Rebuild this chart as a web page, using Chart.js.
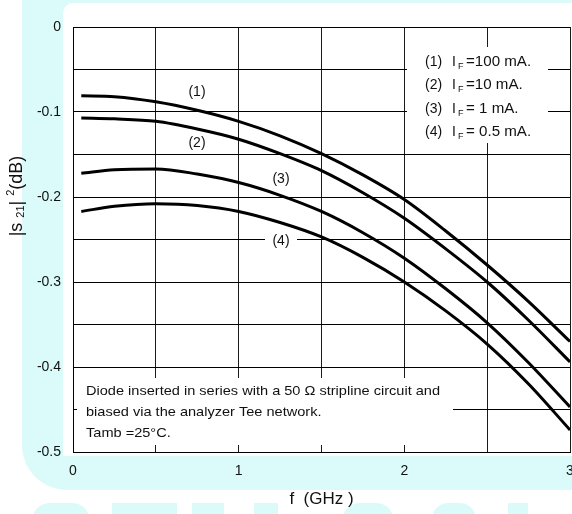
<!DOCTYPE html>
<html>
<head>
<meta charset="utf-8">
<script src="https://cdn.jsdelivr.net/npm/chart.js@4/dist/chart.umd.min.js"></script>
<style>
  html, body { margin: 0; padding: 0; background: #fff; }
  #wrap { width: 572px; height: 514px; position: relative; }
</style>
</head>
<body>
<div id="wrap"><canvas id="c" width="572" height="514"></canvas></div>
<script>
// ---- data ----
const freqGHz = [0.05, 0.25, 0.5, 0.75, 1.0, 1.25, 1.5, 1.75, 2.0, 2.25, 2.5, 2.75, 3.0];
const s21_IF100mA = [-0.081, -0.082, -0.088, -0.098, -0.111, -0.128, -0.149, -0.174, -0.203, -0.240, -0.280, -0.323, -0.370];
const s21_IF10mA  = [-0.107, -0.108, -0.111, -0.120, -0.132, -0.149, -0.169, -0.195, -0.225, -0.261, -0.300, -0.345, -0.394];
const s21_IF1mA   = [-0.172, -0.168, -0.167, -0.173, -0.183, -0.198, -0.217, -0.242, -0.272, -0.308, -0.348, -0.395, -0.447];
const s21_IF05mA  = [-0.217, -0.211, -0.208, -0.210, -0.217, -0.230, -0.247, -0.271, -0.300, -0.334, -0.373, -0.420, -0.474];
const curveTags = ['(1)', '(2)', '(3)', '(4)'];
const legendCurrents = ['=100 mA.', '=10 mA.', '= 1 mA.', '= 0.5 mA.'];
const noteLines = [
  'Diode inserted in series with a 50 \u03A9 stripline circuit and',
  'biased via the analyzer Tee network.',
  'Tamb =25\u00B0C.'
];
const xTitle = 'f  (GHz )';

const FONT = "'Liberation Sans', Arial, Helvetica, sans-serif";
const CYAN = '#dbfbfb';

function toXY(ys) { return freqGHz.map((x, i) => ({ x: x, y: ys[i] })); }
function ds(ys) {
  return {
    data: toXY(ys),
    borderColor: '#000',
    borderWidth: 3,
    pointRadius: 0,
    fill: false,
    cubicInterpolationMode: 'monotone'
  };
}

function rr(ctx, x, y, w, h, r) {
  ctx.beginPath();
  ctx.roundRect(x, y, w, h, r);
  ctx.fill();
}

function stretchedText(ctx, text, x, y, sx) {
  ctx.save();
  ctx.translate(x, y);
  ctx.scale(sx, 1);
  ctx.fillText(text, 0, 0);
  ctx.restore();
}

const decor = {
  id: 'decor',
  beforeDraw(chart) {
    const ctx = chart.ctx;
    ctx.save();
    ctx.fillStyle = '#fff';
    ctx.fillRect(0, 0, chart.width, chart.height);
    // watermark-like cyan background
    ctx.fillStyle = CYAN;
    rr(ctx, 22, -40, 600, 530, [0, 0, 0, 45]);
    ctx.fillRect(22, 0, 600, 3);
    // bottom row blobs
    rr(ctx, 32, 503, 58, 40, 18);
    ctx.fillRect(112, 503, 65, 20);
    ctx.fillRect(192, 503, 32, 20);
    ctx.fillRect(254, 503, 24, 20);
    rr(ctx, 342, 503, 52, 40, 18);
    rr(ctx, 432, 503, 44, 40, 16);
    ctx.fillRect(508, 503, 20, 20);
    // white panel behind plot
    ctx.fillStyle = '#fff';
    rr(ctx, 63, 3, 560, 453, [10, 0, 0, 0]);
    ctx.restore();
  },
  beforeDatasetsDraw(chart) {
    const ctx = chart.ctx;
    const xs = chart.scales.x;
    ctx.save();
    ctx.fillStyle = '#fff';
    // note box over the grid (lower left)
    ctx.fillRect(xs.left + 4, 378, 453 - (xs.left + 4), 67);
    // legend box (upper right)
    ctx.fillRect(407, 47, 141, 96);
    // label gap for (4)
    ctx.fillRect(265, 233, 32, 14);
    ctx.restore();
  },
  afterDatasetsDraw(chart) {
    const ctx = chart.ctx;
    ctx.save();
    ctx.fillStyle = '#111';
    ctx.textBaseline = 'middle';
    // curve labels
    ctx.font = '14px ' + FONT;
    ctx.textAlign = 'center';
    const tagPos = [[197, 92], [197, 143], [281, 179], [281, 241]];
    curveTags.forEach((t, i) => ctx.fillText(t, tagPos[i][0], tagPos[i][1]));
    // legend
    ctx.textAlign = 'left';
    const ly = [62, 85, 109, 132];
    curveTags.forEach((t, i) => {
      ctx.font = '14px ' + FONT;
      ctx.fillText(t, 425, ly[i]);
      ctx.fillText('I', 452, ly[i]);
      stretchedText(ctx, legendCurrents[i], 466, ly[i], 1.08);
      ctx.font = '9px ' + FONT;
      ctx.fillText('F', 458, ly[i] + 5);
    });
    // note
    ctx.font = '13px ' + FONT;
    const ny = [391, 412, 433];
    noteLines.forEach((t, i) => stretchedText(ctx, t, 86, ny[i], 1.12));
    // y axis title with sub/superscripts
    ctx.translate(17, 196);
    ctx.rotate(-Math.PI / 2);
    const parts = [
      { t: '|s ', s: 18, dy: 0 },
      { t: '21', s: 11, dy: 4 },
      { t: '| ', s: 18, dy: 0 },
      { t: '2', s: 11, dy: -6 },
      { t: '(dB)', s: 18, dy: 0 }
    ];
    let total = 0;
    parts.forEach(p => { ctx.font = p.s + 'px ' + FONT; p.w = ctx.measureText(p.t).width; total += p.w; });
    let cx = -total / 2;
    parts.forEach(p => { ctx.font = p.s + 'px ' + FONT; ctx.fillText(p.t, cx, p.dy); cx += p.w; });
    ctx.restore();
  }
};

new Chart(document.getElementById('c'), {
  type: 'line',
  data: {
    datasets: [ds(s21_IF100mA), ds(s21_IF10mA), ds(s21_IF1mA), ds(s21_IF05mA)]
  },
  options: {
    responsive: false,
    animation: false,
    devicePixelRatio: 1,
    layout: { padding: { top: 27, right: 2, left: 0, bottom: 0 }, autoPadding: false },
    plugins: { legend: { display: false }, tooltip: { enabled: false } },
    scales: {
      x: {
        type: 'linear',
        min: 0, max: 3,
        afterFit(s) { s.height = 62; s.paddingLeft = 0; s.paddingRight = 0; },
        grid: { color: '#1a1a1a', lineWidth: 1, drawTicks: false },
        border: { color: '#000', width: 1 },
        ticks: {
          stepSize: 0.5, autoSkip: false, maxRotation: 0, padding: 11,
          color: '#111', font: { family: FONT, size: 14 },
          callback: v => (Math.abs(v - Math.round(v)) < 1e-6 ? String(Math.round(v)) : '')
        },
        title: { display: true, text: xTitle, color: '#111', font: { family: FONT, size: 17 }, padding: { top: 0, bottom: 4 } }
      },
      y: {
        type: 'linear',
        min: -0.5, max: 0,
        afterFit(s) { s.width = 73; s.paddingTop = 0; s.paddingBottom = 0; },
        grid: { color: '#000', lineWidth: 1, drawTicks: false },
        border: { color: '#000', width: 1 },
        ticks: {
          stepSize: 0.05, autoSkip: false, padding: 12,
          color: '#111', font: { family: FONT, size: 14 },
          callback: v => {
            const k = Math.round(v * 100);
            if (k % 10 !== 0) return '';
            return k === 0 ? '0' : (k / 100).toFixed(1);
          }
        }
      }
    }
  },
  plugins: [decor]
});
</script>
</body>
</html>
